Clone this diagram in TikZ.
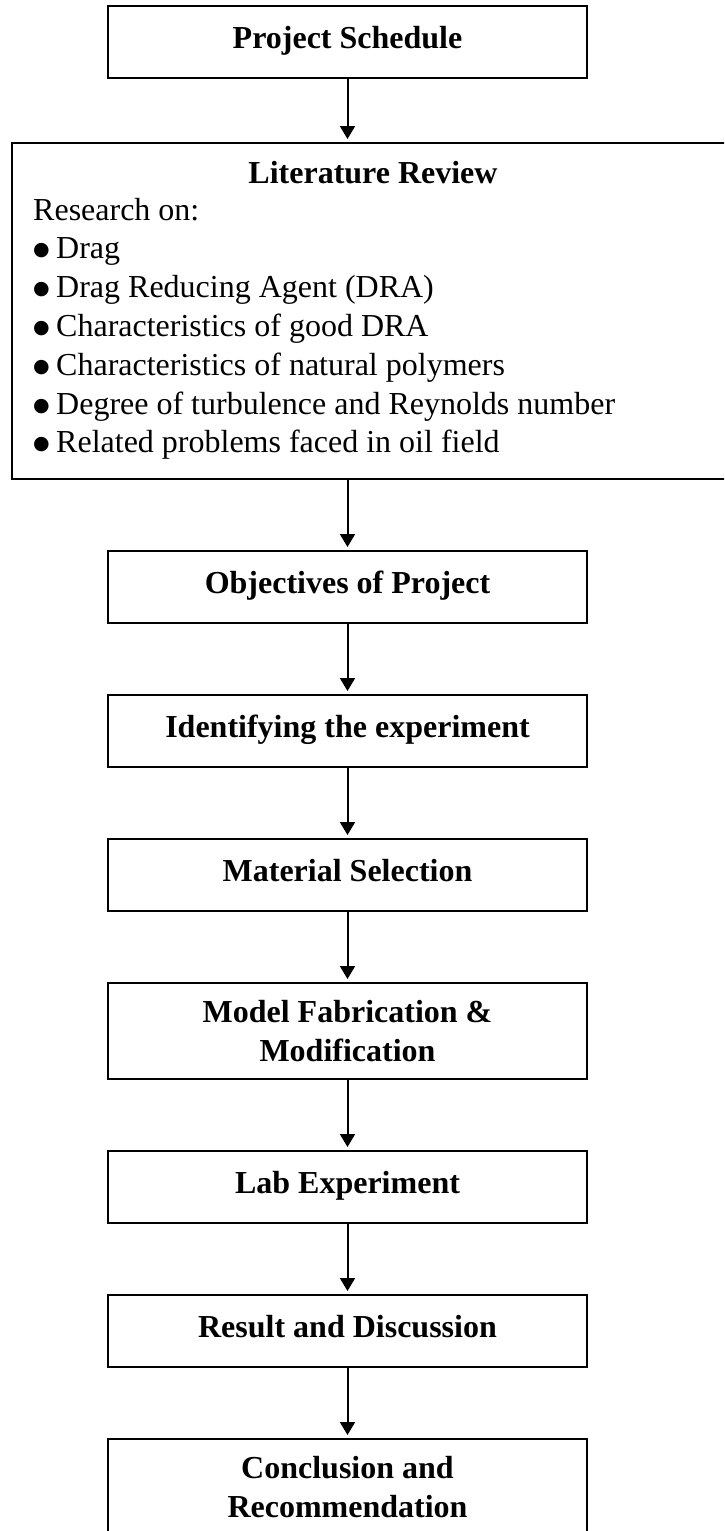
\documentclass[tikz,border=0pt]{standalone}
\usepackage{fontspec}
\setmainfont{Liberation Serif}
\newfontfamily\dvfont{DejaVu Sans}
\usetikzlibrary{arrows.meta}
\newcommand{\bu}{\makebox[23pt][l]{\raisebox{3pt}{\dvfont\fontsize{19}{19}\selectfont ●}}}
\begin{document}
\begin{tikzpicture}[x=1pt,y=-1pt,
  box/.style={draw, line width=2pt, inner sep=0pt, minimum width=479pt, minimum height=72pt,
    font=\fontsize{32}{38.5}\selectfont\bfseries, align=center},
  oneline/.style={text height=22pt, text depth=10pt},
  twoline/.style={minimum height=96pt},
  conn/.style={line width=2pt, -{Triangle[width=15pt,length=13pt]}, shorten >=3pt},
  item/.style={anchor=base west, inner sep=0pt, font=\fontsize{32}{38.5}\selectfont}]
\useasboundingbox (0,0) rectangle (724,1531);
\clip (0,0) rectangle (724,1531);
% boxes
\node[box, oneline] (b1) at (347.5,42) {Project Schedule};
\node[draw, line width=2pt, inner sep=0pt, minimum width=722pt, minimum height=336pt] (lit) at (373,311) {};
\node[anchor=base, inner sep=0pt, font=\fontsize{32}{38.5}\selectfont\bfseries] (littitle) at (373,183) {Literature Review};
\node[item] (l0) at (33,220) {Research on:};
\node[item] (l1) at (33,258.8) {\bu Drag};
\node[item] (l2) at (33,297.6) {\bu Drag Reducing Agent (DRA)};
\node[item] (l3) at (33,336.4) {\bu Characteristics of good DRA};
\node[item] (l4) at (33,375.2) {\bu Characteristics of natural polymers};
\node[item] (l5) at (33,414) {\bu Degree of turbulence and Reynolds number};
\node[item] (l6) at (33,452.8) {\bu Related problems faced in oil field};
\node[box, oneline] (b3) at (347.5,587) {Objectives of Project};
\node[box, oneline] (b4) at (347.5,731) {Identifying the experiment};
\node[box, oneline] (b5) at (347.5,875) {Material Selection};
\node[box, twoline] (b6) at (347.5,1031) {Model Fabrication \&\\Modification};
\node[box, oneline] (b7) at (347.5,1187) {Lab Experiment};
\node[box, oneline] (b8) at (347.5,1331) {Result and Discussion};
\node[box, twoline] (b9) at (347.5,1487) {Conclusion and\\Recommendation};
% connectors
\draw[conn] (b1.south) -- (b1.south |- lit.north);
\draw[conn] (b3.north |- lit.south) -- (b3.north);
\draw[conn] (b3.south) -- (b4.north);
\draw[conn] (b4.south) -- (b5.north);
\draw[conn] (b5.south) -- (b6.north);
\draw[conn] (b6.south) -- (b7.north);
\draw[conn] (b7.south) -- (b8.north);
\draw[conn] (b8.south) -- (b9.north);
\end{tikzpicture}
\end{document}
